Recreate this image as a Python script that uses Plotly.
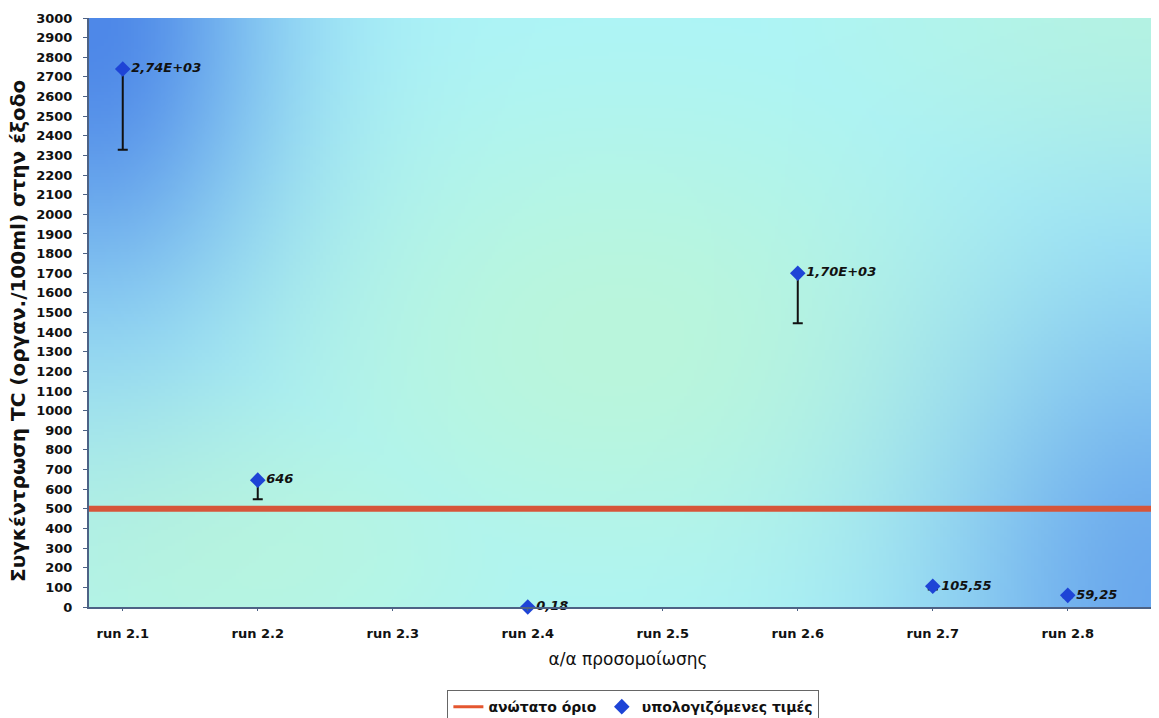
import base64, struct, zlib
import numpy as np
import plotly.graph_objects as go

# ---- data ----
categories = ["run 2.1", "run 2.2", "run 2.3", "run 2.4", "run 2.5", "run 2.6", "run 2.7", "run 2.8"]
point_runs = ["run 2.1", "run 2.2", "run 2.4", "run 2.6", "run 2.7", "run 2.8"]
point_values = [2740, 646, 0.18, 1700, 105.55, 59.25]
point_labels = ["2,74E+03", "646", "0,18", "1,70E+03", "105,55", "59,25"]
error_minus = [411, 97, 0.03, 255, 16, 9]
upper_limit = 500
y_ticks = list(range(0, 3001, 100))
y_title = "Συγκέντρωση TC (οργαν./100ml) στην έξοδο"

# ---- background gradient image (PNG built in memory) ----
def make_png(arr):
    h, w, _ = arr.shape
    raw = b"".join(b"\x00" + arr[r].tobytes() for r in range(h))
    def chunk(tag, data):
        c = struct.pack(">I", len(data)) + tag + data
        return c + struct.pack(">I", zlib.crc32(tag + data) & 0xFFFFFFFF)
    return (b"\x89PNG\r\n\x1a\n" + chunk(b"IHDR", struct.pack(">IIBBBBB", w, h, 8, 2, 0, 0, 0))
            + chunk(b"IDAT", zlib.compress(raw, 9)) + chunk(b"IEND", b""))

W, H = 320, 180
u = np.linspace(0, 1, W)[None, :]
v = np.linspace(0, 1, H)[:, None]
cyan = np.array([172, 244, 250], float)
green = np.array([186, 246, 220], float)
blue = np.array([78, 136, 232], float)
wg = np.exp(-(((u - 0.5) / 0.33) ** 2 + ((v - 0.55) / 0.4) ** 2))
wg = np.maximum(wg, 0.75 * np.exp(-(((u - 1.0) / 0.3) ** 2 + ((v - 0.0) / 0.3) ** 2)))
wg = np.maximum(wg, 0.85 * np.exp(-(((u - 0.12) / 0.3) ** 2 + ((v - 0.9) / 0.3) ** 2)))
base = cyan[None, None, :] * (1 - wg[..., None]) + green[None, None, :] * wg[..., None]
wtl = np.exp(-((u / 0.17) ** 2 + (v / 0.5) ** 2))
wbr = np.exp(-(((1 - u) / 0.22) ** 2 + ((1 - v) / 0.55) ** 2))
wb = np.clip(np.maximum(wtl, 0.7 * wbr), 0, 1)[..., None]
img = base * (1 - wb) + blue[None, None, :] * wb
img = np.clip(img, 0, 255).astype(np.uint8)
bg_uri = "data:image/png;base64," + base64.b64encode(make_png(img)).decode()

FONT = "DejaVu Sans, Liberation Sans, Arial, sans-serif"

fig = go.Figure()
fig.add_trace(go.Scatter(
    x=[None], y=[None], mode="lines", name="ανώτατο όριο",
    line=dict(color="#e4562f", width=3), showlegend=True, hoverinfo="skip"))
fig.add_trace(go.Scatter(
    x=point_runs, y=point_values, mode="markers+text", name="υπολογιζόμενες τιμές",
    marker=dict(symbol="diamond", size=12, color="#1e44d6"),
    text=point_labels, textposition="middle right",
    textfont=dict(family=FONT, size=13, color="#111111", weight="bold", style="italic"),
    error_y=dict(type="data", symmetric=False, array=[0] * len(error_minus),
                 arrayminus=error_minus, color="#111111", thickness=2, width=5),
    cliponaxis=False))

fig.add_shape(type="line", xref="x domain", x0=0, x1=1, yref="y", y0=upper_limit, y1=upper_limit,
              line=dict(color="#d6553a", width=6), layer="above")

fig.add_layout_image(dict(source=bg_uri, xref="paper", yref="paper", x=0, y=1,
                          sizex=1, sizey=1, sizing="stretch", layer="below", xanchor="left", yanchor="top"))

fig.add_annotation(text=y_title, textangle=-90, xref="paper", yref="paper",
                   x=-0.0664, y=0.5, xanchor="center", yanchor="middle", showarrow=False,
                   yshift=-18,
                   font=dict(family=FONT, size=20, weight="bold", color="#111111"))

fig.update_layout(
    width=1159, height=718,
    margin=dict(l=81, r=0, t=10, b=119, autoexpand=False),
    paper_bgcolor="white", plot_bgcolor="rgba(0,0,0,0)",
    font=dict(family=FONT, color="#111111"),
    legend=dict(orientation="h", x=0.505, xanchor="center", y=-0.141, yanchor="top",
                bordercolor="#666666", borderwidth=1, bgcolor="white",
                font=dict(family=FONT, size=14, weight="bold")),
    xaxis=dict(type="category", categoryorder="array", categoryarray=categories,
               range=[-0.25, 7.735], showgrid=False, zeroline=False, automargin=False,
               showline=True, linecolor="#4d6285", linewidth=2,
               ticks="outside", ticklen=2, tickcolor="#4d6285",
               tickfont=dict(family=FONT, size=13, weight="bold"),
               ticklabelstandoff=11,
               title=dict(text="α/α προσομοίωσης", font=dict(family=FONT, size=17), standoff=14)),
    yaxis=dict(range=[0, 3000], tickvals=y_ticks, showgrid=False, zeroline=False, automargin=False,
               showline=True, linecolor="#4d6285", linewidth=2,
               ticks="outside", ticklen=4, tickcolor="#4d6285",
               tickfont=dict(family=FONT, size=13, weight="bold"), ticklabelstandoff=8),
)

fig.write_html("out.html")
